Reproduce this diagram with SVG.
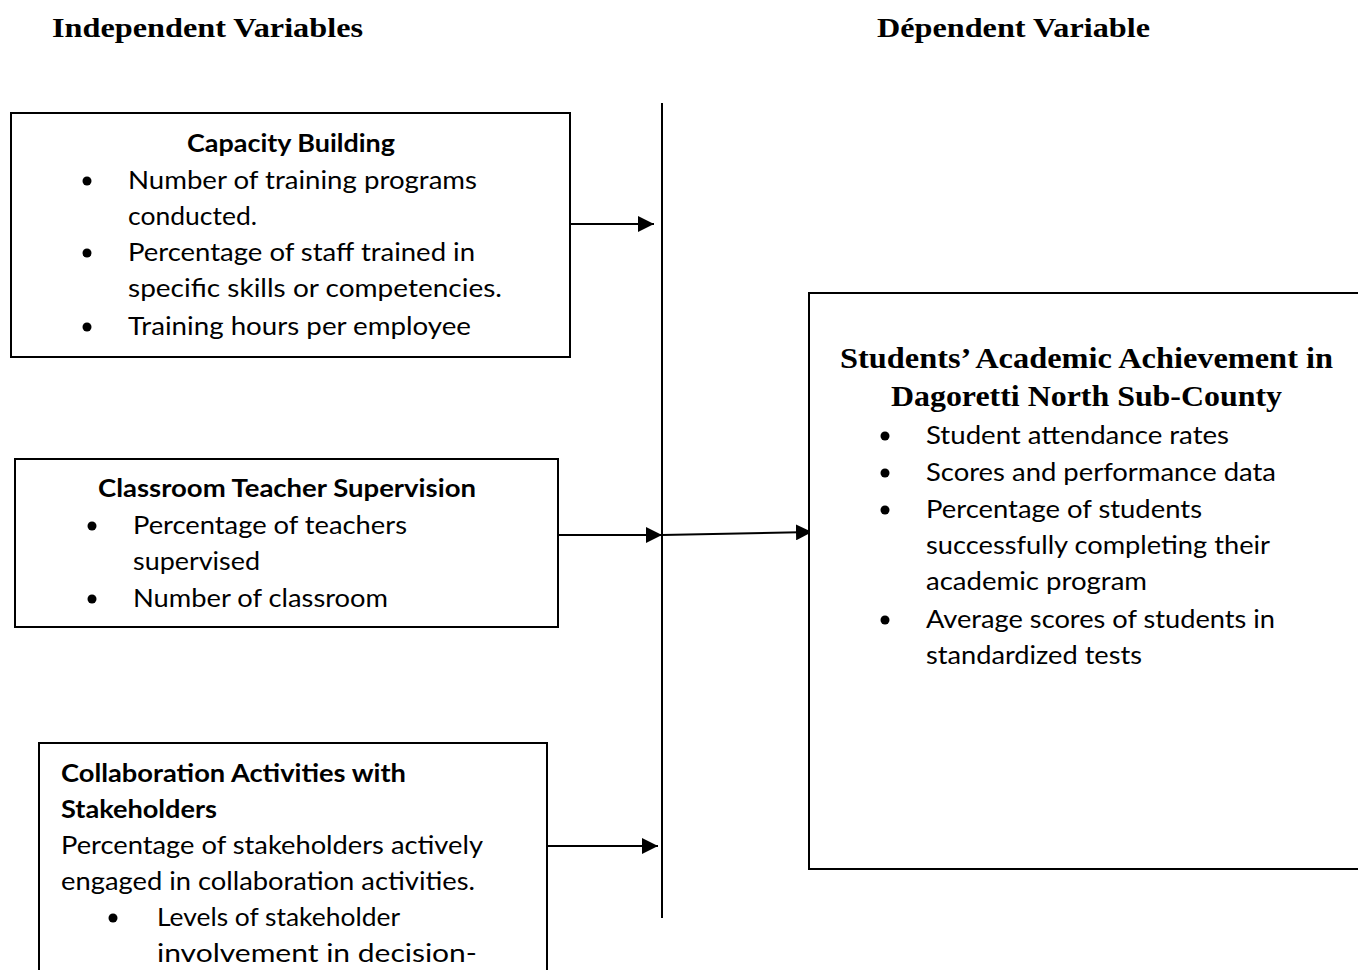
<svg xmlns="http://www.w3.org/2000/svg" width="1358" height="970" viewBox="0 0 1358 970">
  <style>
    .box { fill: #ffffff; stroke: #000000; stroke-width: 2; }
    .hd { font-family: "Liberation Serif", "Times New Roman", serif; font-weight: bold; font-size: 28px; fill: #000; }
    .ttl { font-family: "Liberation Serif", "Times New Roman", serif; font-weight: bold; font-size: 30px; fill: #000; }
    .b { font-family: Lato, "Open Sans", sans-serif; font-weight: bold; font-size: 25px; fill: #000; }
    .t { font-family: Lato, "Open Sans", sans-serif; font-size: 25px; fill: #000; }
    .dot { fill: #000; }
    .ln { stroke: #000; stroke-width: 2; fill: none; }
  </style>
  <defs>
    <marker id="arrow" viewBox="0 0 10 10" refX="10" refY="5" markerWidth="16" markerHeight="16" markerUnits="userSpaceOnUse" orient="auto">
      <path d="M0,0 L10,5 L0,10 Z" fill="#000"/>
    </marker>
  </defs>
  <rect width="1358" height="970" fill="#ffffff"/>

  <!-- column headings -->
  <text class="hd" x="52" y="37" textLength="311" lengthAdjust="spacingAndGlyphs">Independent Variables</text>
  <text class="hd" x="877" y="37" textLength="273" lengthAdjust="spacingAndGlyphs">Dépendent Variable</text>

  <!-- connectors -->
  <g id="connectors">
    <line class="ln" x1="662" y1="103" x2="662" y2="918"/>
    <line class="ln" x1="570" y1="224" x2="654" y2="224" marker-end="url(#arrow)"/>
    <line class="ln" x1="558" y1="535" x2="662" y2="535" marker-end="url(#arrow)"/>
    <line class="ln" x1="662" y1="535" x2="812" y2="532" marker-end="url(#arrow)"/>
    <line class="ln" x1="547" y1="846" x2="658" y2="846" marker-end="url(#arrow)"/>
  </g>

  <!-- Capacity Building -->
  <g id="capacity-building">
    <rect class="box" x="11" y="113" width="559" height="244"/>
    <text class="b" x="187" y="152" textLength="208" lengthAdjust="spacingAndGlyphs">Capacity Building</text>
    <circle class="dot" cx="87" cy="181" r="4.5"/>
    <text class="t" x="128" y="189" textLength="349" lengthAdjust="spacingAndGlyphs">Number of training programs</text>
    <text class="t" x="128" y="225" textLength="129" lengthAdjust="spacingAndGlyphs">conducted.</text>
    <circle class="dot" cx="87" cy="253" r="4.5"/>
    <text class="t" x="128" y="261" textLength="347" lengthAdjust="spacingAndGlyphs">Percentage of staff trained in</text>
    <text class="t" x="128" y="297" textLength="374" lengthAdjust="spacingAndGlyphs">specific skills or competencies.</text>
    <circle class="dot" cx="87" cy="327" r="4.5"/>
    <text class="t" x="128" y="335" textLength="343" lengthAdjust="spacingAndGlyphs">Training hours per employee</text>
  </g>

  <!-- Classroom Teacher Supervision -->
  <g id="teacher-supervision">
    <rect class="box" x="15" y="459" width="543" height="168"/>
    <text class="b" x="98" y="497" textLength="378" lengthAdjust="spacingAndGlyphs">Classroom Teacher Supervision</text>
    <circle class="dot" cx="92" cy="526" r="4.5"/>
    <text class="t" x="133" y="534" textLength="274" lengthAdjust="spacingAndGlyphs">Percentage of teachers</text>
    <text class="t" x="133" y="570" textLength="127" lengthAdjust="spacingAndGlyphs">supervised</text>
    <circle class="dot" cx="92" cy="599" r="4.5"/>
    <text class="t" x="133" y="607" textLength="255" lengthAdjust="spacingAndGlyphs">Number of classroom</text>
  </g>

  <!-- Collaboration Activities with Stakeholders -->
  <g id="collaboration">
    <path class="box" d="M39,975 L39,743 L547,743 L547,975"/>
    <text class="b" x="61" y="782" textLength="345" lengthAdjust="spacingAndGlyphs">Collaboration Activities with</text>
    <text class="b" x="61" y="818" textLength="156" lengthAdjust="spacingAndGlyphs">Stakeholders</text>
    <text class="t" x="61" y="854" textLength="422" lengthAdjust="spacingAndGlyphs">Percentage of stakeholders actively</text>
    <text class="t" x="61" y="890" textLength="414" lengthAdjust="spacingAndGlyphs">engaged in collaboration activities.</text>
    <circle class="dot" cx="113" cy="918" r="4.5"/>
    <text class="t" x="157" y="926" textLength="243" lengthAdjust="spacingAndGlyphs">Levels of stakeholder</text>
    <text class="t" x="157" y="962" textLength="320" lengthAdjust="spacingAndGlyphs">involvement in decision-</text>
  </g>

  <!-- Students' Academic Achievement -->
  <g id="academic-achievement">
    <path class="box" d="M1360,293 L809,293 L809,869 L1360,869"/>
    <text class="ttl" x="840" y="368" textLength="493" lengthAdjust="spacingAndGlyphs">Students’ Academic Achievement in</text>
    <text class="ttl" x="891" y="406" textLength="391" lengthAdjust="spacingAndGlyphs">Dagoretti North Sub-County</text>
    <circle class="dot" cx="885" cy="436" r="4.5"/>
    <text class="t" x="926" y="444" textLength="303" lengthAdjust="spacingAndGlyphs">Student attendance rates</text>
    <circle class="dot" cx="885" cy="473" r="4.5"/>
    <text class="t" x="926" y="481" textLength="350" lengthAdjust="spacingAndGlyphs">Scores and performance data</text>
    <circle class="dot" cx="885" cy="510" r="4.5"/>
    <text class="t" x="926" y="518" textLength="276" lengthAdjust="spacingAndGlyphs">Percentage of students</text>
    <text class="t" x="926" y="554" textLength="344" lengthAdjust="spacingAndGlyphs">successfully completing their</text>
    <text class="t" x="926" y="590" textLength="221" lengthAdjust="spacingAndGlyphs">academic program</text>
    <circle class="dot" cx="885" cy="620" r="4.5"/>
    <text class="t" x="926" y="628" textLength="349" lengthAdjust="spacingAndGlyphs">Average scores of students in</text>
    <text class="t" x="926" y="664" textLength="216" lengthAdjust="spacingAndGlyphs">standardized tests</text>
  </g>
</svg>
